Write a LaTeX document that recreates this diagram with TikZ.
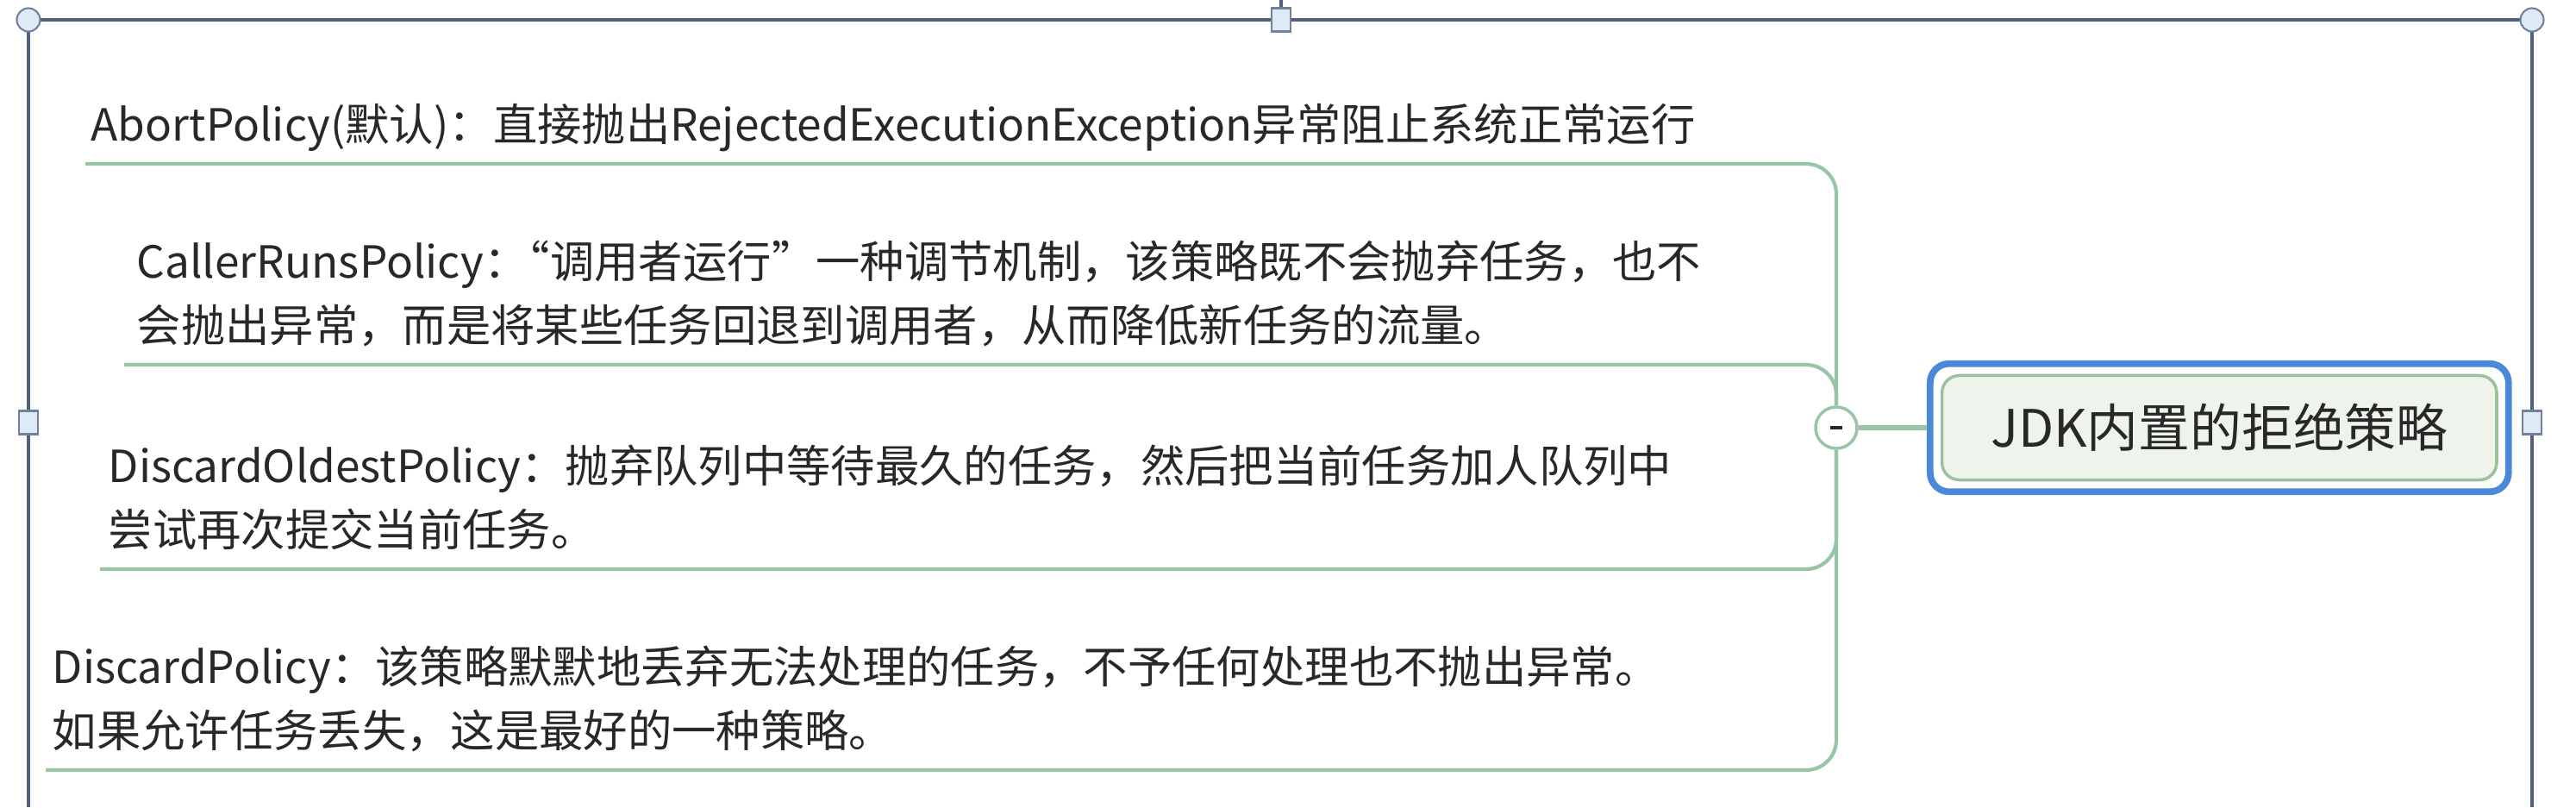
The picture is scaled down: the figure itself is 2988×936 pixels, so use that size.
\documentclass[tikz,border=0pt]{standalone}
\usepackage{fontspec}
\setmainfont{Noto Sans CJK SC}
\usetikzlibrary{positioning, fit}
\definecolor{frameblue}{RGB}{78,98,128}
\definecolor{handlefill}{RGB}{222,234,246}
\definecolor{branchgreen}{RGB}{152,196,168}
\definecolor{rootfill}{RGB}{238,243,236}
\definecolor{rootline}{RGB}{160,190,160}
\definecolor{selblue}{RGB}{74,136,218}
\definecolor{inkgray}{RGB}{40,40,40}
\newcommand{\halfpunct}[1]{{\addfontfeature{RawFeature=+halt}#1}}

\begin{document}
\begin{tikzpicture}[
  x=0.01cm, y=-0.01cm,
  frame/.style={frameblue, line width=0.9pt},
  corner/.style={circle, draw=frameblue!80, fill=handlefill, line width=0.6pt,
                 minimum size=0.27cm, inner sep=0pt},
  handle/.style={rectangle, draw=frameblue!80, fill=handlefill, line width=0.6pt,
                 minimum width=0.22cm, minimum height=0.27cm, inner sep=0pt},
  leaf/.style={anchor=base west, inner sep=0pt, align=left, text=inkgray,
               font=\fontsize{14.6}{21}\selectfont},
  branch/.style={branchgreen, line width=1.2pt, rounded corners=0.35cm},
  hub/.style={circle, draw=branchgreen, fill=white, line width=1pt,
              minimum size=0.48cm, inner sep=0pt},
  root/.style={draw=rootline, fill=rootfill, line width=1pt, rounded corners=0.2cm,
               minimum width=6.43cm, minimum height=1.21cm, text=inkgray,
               font=\fontsize{17}{20}\selectfont},
  sel/.style={draw=selblue, line width=2.2pt, rounded corners=0.22cm, inner sep=0.12cm},
]
  \useasboundingbox (0,0) rectangle (2988,936);
  \draw[frame] (33,936) -- (33,23) -- (2937,23) -- (2937,936);
  \draw[frame] (1486,0) -- (1486,23);
  \node[corner] (cnw) at (33,23) {};
  \node[corner] (cne) at (2937,23) {};
  \node[handle] (hn) at (1486,23) {};
  \node[handle] (hw) at (33,490) {};
  \node[handle] (he) at (2937,490) {};

  \node[hub] (hub) at (2130,496) {};
  \node[root, right=0.95cm of hub] (root) {JDK内置的拒绝策略};
  \node[sel, fit=(root)] (sel) {};
  \draw[branchgreen, line width=1.6pt] (hub) -- (sel);
  \draw[inkgray, line width=1.4pt] ([xshift=-0.07cm]hub.center) -- ([xshift=0.07cm]hub.center);

  \coordinate (u1) at (99,190);
  \coordinate (u2) at (144,423);
  \coordinate (u3) at (116,660);
  \coordinate (u4) at (53,893);

  \node[leaf] (t1) at (105,163) {AbortPolicy(默认)：直接抛出RejectedExecutionException异常阻止系统正常运行};
  \node[leaf] (t2) at (158,396) {CallerRunsPolicy：\halfpunct{“}调用者运行”一种调节机制，该策略既不会抛弃任务，也不\\
    会抛出异常，而是将某些任务回退到调用者，从而降低新任务的流量。};
  \node[leaf] (t3) at (125,633) {DiscardOldestPolicy：抛弃队列中等待最久的任务，然后把当前任务加人队列中\\
    尝试再次提交当前任务。};
  \node[leaf] (t4) at (60,866) {DiscardPolicy：该策略默默地丢弃无法处理的任务，不予任何处理也不抛出异常。\\
    如果允许任务丢失，这是最好的一种策略。};

  \foreach \u in {u1,u2,u3,u4}
    \draw[branch] (\u) -- (\u -| hub) -- (hub);
\end{tikzpicture}
\end{document}
